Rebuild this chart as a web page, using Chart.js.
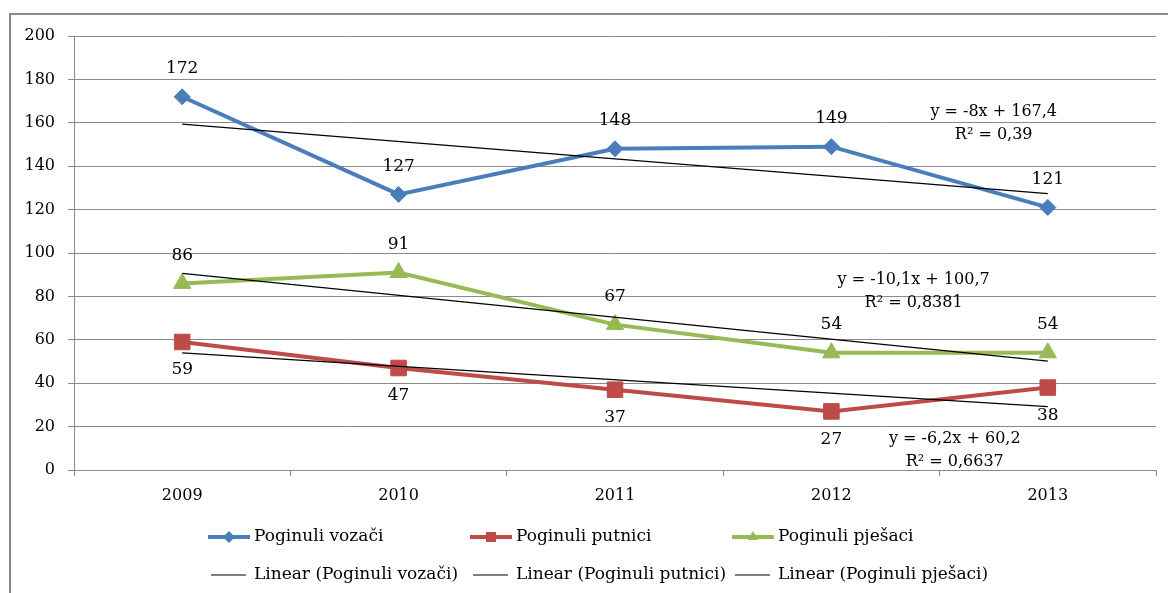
<!DOCTYPE html>
<html>
<head>
<meta charset="utf-8">
<script src="https://cdn.jsdelivr.net/npm/chart.js@4/dist/chart.umd.min.js"></script>
<style>
  html, body { margin: 0; padding: 0; background: #fff; overflow: hidden; }
  #okvir {
    position: absolute; left: 9px; top: 13px; width: 1200px; height: 640px;
    border-left: 2px solid #898989; border-top: 2px solid #898989;
  }
  #graf { position: absolute; left: 0; top: 0; }
</style>
</head>
<body>
<div id="okvir"></div>
<canvas id="graf" width="1168" height="593"></canvas>
<script>
// Podaci s grafikona
const GODINE = ['2009', '2010', '2011', '2012', '2013'];
const VOZACI = [172, 127, 148, 149, 121];
const PUTNICI = [59, 47, 37, 27, 38];
const PJESACI = [86, 91, 67, 54, 54];

// Linearni trendovi (krajnje tocke ocitane sa slike)
const TREND_VOZACI = [159.4, null, null, null, 127.4];
const TREND_PUTNICI = [54, null, null, null, 29.2];
const TREND_PJESACI = [90.6, null, null, null, 50.2];

const Y_TICKS = [0, 20, 40, 60, 80, 100, 120, 140, 160, 180, 200];

// Jednadzbe trendova: tekst i sidro u jedinicama osi (indeks kategorije, vrijednost)
const JEDNADZBE = [
  { redovi: ['y = -8x + 167,4', 'R² = 0,39'], x: 3.75, y: 165 },
  { redovi: ['y = -10,1x + 100,7', 'R² = 0,8381'], x: 3.38, y: 87.5 },
  { redovi: ['y = -6,2x + 60,2', 'R² = 0,6637'], x: 3.57, y: 14.5 }
];

const FONT = "'DejaVu Serif', serif";
const SIVA = '#898989';
const PLAVA = '#4a7ebb';
const CRVENA = '#be4b48';
const ZELENA = '#98b954';

// Oznake vrijednosti iznad/ispod tocaka
const oznakePlugin = {
  id: 'oznake',
  afterDatasetsDraw(chart) {
    const ctx = chart.ctx;
    ctx.save();
    ctx.font = '17px ' + FONT;
    ctx.fillStyle = '#000';
    ctx.textAlign = 'center';
    ctx.textBaseline = 'middle';
    chart.data.datasets.forEach((ds, i) => {
      if (!ds.polozajOznake) return;
      const meta = chart.getDatasetMeta(i);
      meta.data.forEach((pt, j) => {
        const dy = ds.polozajOznake === 'gore' ? -28 : 28;
        ctx.fillText(String(ds.data[j]), pt.x, pt.y + dy);
      });
    });

    // jednadzbe trendova
    ctx.font = '16px ' + FONT;
    const xs = chart.scales.x, ys = chart.scales.y;
    JEDNADZBE.forEach(j => {
      const px = xs.getPixelForValue(j.x);
      const py = ys.getPixelForValue(j.y);
      j.redovi.forEach((t, k) => ctx.fillText(t, px, py + k * 23));
    });
    ctx.restore();
  }
};

function nacrtajMarker(ctx, stil, x, y, r, boja) {
  ctx.fillStyle = boja;
  ctx.beginPath();
  if (stil === 'rectRot') {
    ctx.moveTo(x - r, y); ctx.lineTo(x, y - r); ctx.lineTo(x + r, y); ctx.lineTo(x, y + r);
  } else if (stil === 'rect') {
    ctx.rect(x - r, y - r, 2 * r, 2 * r);
  } else if (stil === 'triangle') {
    ctx.moveTo(x, y - r); ctx.lineTo(x + r * 0.87, y + r * 0.5); ctx.lineTo(x - r * 0.87, y + r * 0.5);
  }
  ctx.closePath();
  ctx.fill();
}

// Legenda u dva reda, poravnata u stupce kao u Excelu
const legendaPlugin = {
  id: 'legenda',
  afterDraw(chart, args, opts) {
    const ctx = chart.ctx;
    ctx.save();
    ctx.font = '17px ' + FONT;
    ctx.textBaseline = 'middle';
    ctx.textAlign = 'left';
    chart.data.datasets.forEach((ds, i) => {
      const x = opts.x0 + (i % 3) * opts.sirinaStupca;
      const y = opts.y0 + Math.floor(i / 3) * opts.visinaReda;
      ctx.strokeStyle = ds.borderColor;
      ctx.lineWidth = ds.borderWidth;
      ctx.beginPath();
      if (ds.pointRadius > 0) {
        ctx.moveTo(x, y); ctx.lineTo(x + 42, y);
      } else {
        ctx.moveTo(x + 3, y); ctx.lineTo(x + 38, y);
      }
      ctx.stroke();
      if (ds.pointRadius > 0) {
        const r = ds.pointStyle === 'rect' ? 5 : 6;
        nacrtajMarker(ctx, ds.pointStyle, x + 21, y, r, ds.pointBackgroundColor);
      }
      ctx.fillStyle = '#000';
      ctx.fillText(ds.label, x + 46, y);
    });
    ctx.restore();
  }
};

function serija(label, data, boja, stil, radius, polozaj) {
  return {
    label: label,
    data: data,
    borderColor: boja,
    backgroundColor: boja,
    pointBackgroundColor: boja,
    pointBorderColor: boja,
    borderWidth: 4,
    pointStyle: stil,
    pointRadius: radius,
    pointBorderWidth: 1,
    tension: 0,
    order: 1,
    polozajOznake: polozaj
  };
}

function trend(label, data) {
  return {
    label: label,
    data: data,
    borderColor: '#000',
    borderWidth: 1.2,
    pointRadius: 0,
    spanGaps: true,
    tension: 0,
    order: 0
  };
}

new Chart(document.getElementById('graf'), {
  type: 'line',
  data: {
    labels: GODINE,
    datasets: [
      serija('Poginuli vozači', VOZACI, PLAVA, 'rectRot', 8, 'gore'),
      serija('Poginuli putnici', PUTNICI, CRVENA, 'rect', 11, 'dolje'),
      serija('Poginuli pješaci', PJESACI, ZELENA, 'triangle', 10, 'gore'),
      trend('Linear (Poginuli vozači)', TREND_VOZACI),
      trend('Linear (Poginuli putnici)', TREND_PUTNICI),
      trend('Linear (Poginuli pješaci)', TREND_PJESACI)
    ]
  },
  options: {
    responsive: false,
    animation: false,
    devicePixelRatio: 1,
    layout: { padding: { left: 10, right: 10, top: 36, bottom: 0 } },
    plugins: {
      legend: { display: false },
      tooltip: { enabled: false },
      legenda: { x0: 208, y0: 537, sirinaStupca: 262, visinaReda: 38 }
    },
    scales: {
      x: {
        offset: true,
        grid: { offset: true, drawOnChartArea: false, drawTicks: true, tickLength: 6, color: SIVA },
        border: { color: SIVA },
        ticks: { font: { family: FONT, size: 16 }, color: '#000', padding: 10, maxRotation: 0 },
        afterFit(scale) { scale.height = 123; }
      },
      y: {
        min: 0,
        max: 200,
        afterBuildTicks(scale) { scale.ticks = Y_TICKS.map(v => ({ value: v })); },
        grid: { color: SIVA, tickLength: 6 },
        border: { color: SIVA },
        ticks: { font: { family: FONT, size: 16 }, color: '#000', padding: 13 },
        afterFit(scale) { scale.width = 64; }
      }
    }
  },
  plugins: [oznakePlugin, legendaPlugin]
});
</script>
</body>
</html>
